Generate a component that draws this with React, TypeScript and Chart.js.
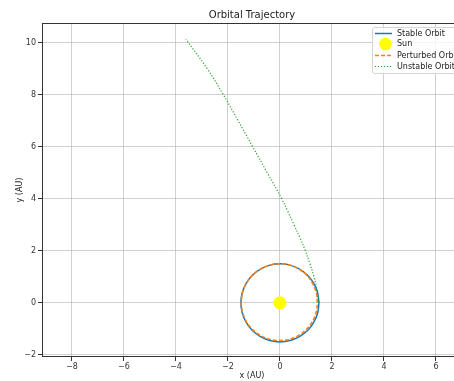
import React, { useEffect, useRef } from "react";
import { Chart, registerables } from "chart.js";

Chart.register(...registerables);

const stableX = [1.5, 1.449, 1.299, 1.061, 0.75, 0.388, 0, -0.388, -0.75, -1.061, -1.299, -1.449, -1.5, -1.449, -1.299, -1.061, -0.75, -0.388, 0, 0.388, 0.75, 1.061, 1.299, 1.449, 1.5];
const stableY = [0, 0.388, 0.75, 1.061, 1.299, 1.449, 1.5, 1.449, 1.299, 1.061, 0.75, 0.388, 0, -0.388, -0.75, -1.061, -1.299, -1.449, -1.5, -1.449, -1.299, -1.061, -0.75, -0.388, 0];

const perturbedX = [1.44, 1.401, 1.264, 1.047, 0.745, 0.388, 0, -0.388, -0.75, -1.061, -1.295, -1.439, -1.49, -1.434, -1.282, -1.039, -0.73, -0.377, 0, 0.374, 0.72, 1.018, 1.247, 1.391, 1.44];
const perturbedY = [0, 0.375, 0.73, 1.047, 1.29, 1.449, 1.5, 1.449, 1.299, 1.061, 0.748, 0.386, 0, -0.384, -0.74, -1.039, -1.264, -1.405, -1.45, -1.396, -1.247, -1.018, -0.72, -0.373, 0];

const unstableX = [1.5, 1.42, 1.31, 1.15, 0.98, 0.77, 0.54, 0.31, 0.07, -0.49, -1.05, -1.61, -2.18, -2.8, -3.62];
const unstableY = [0, 0.5, 1.0, 1.5, 2.0, 2.5, 3.0, 3.5, 4.0, 5.0, 6.0, 7.0, 8.0, 9.0, 10.13];

const sunX = [0];
const sunY = [0];

const xTicks = [-8, -6, -4, -2, 0, 2, 4, 6];
const yTicks = [-2, 0, 2, 4, 6, 8, 10];

const legendLabels = ["Stable Orbit", "Sun", "Perturbed Orbit", "Unstable Orbit"];

const FONT = "'DejaVu Sans', sans-serif";

const pts = (xs: number[], ys: number[]) => xs.map((x, i) => ({ x, y: ys[i] }));
const fmt = (v: number) => (v < 0 ? "\u2212" + Math.abs(v) : String(v));

export default function App() {
  const ref = useRef<HTMLCanvasElement | null>(null);

  useEffect(() => {
    if (!ref.current) return;

    const decor = {
      id: "decor",
      afterDraw(chart: any) {
        const ctx = chart.ctx as CanvasRenderingContext2D;
        const a = chart.chartArea;
        ctx.save();
        // frame
        ctx.strokeStyle = "#333";
        ctx.lineWidth = 1;
        ctx.strokeRect(Math.round(a.left) + 0.5, Math.round(a.top) + 0.5, Math.round(a.right - a.left) - 1, Math.round(a.bottom - a.top) - 1);
        // title
        ctx.fillStyle = "#222";
        ctx.font = `10px ${FONT}`;
        ctx.textAlign = "center";
        ctx.textBaseline = "middle";
        const cx = (a.left + a.right) / 2;
        ctx.fillText("Orbital Trajectory", cx, 15);
        ctx.font = `8px ${FONT}`;
        ctx.fillText("x (AU)", cx, 376);
        ctx.save();
        ctx.translate(20, (a.top + a.bottom) / 2);
        ctx.rotate(-Math.PI / 2);
        ctx.fillText("y (AU)", 0, 0);
        ctx.restore();

        // legend
        const bx = 372.5, by = 27.5, bw = 86, bh = 46;
        const r = 2.5;
        ctx.beginPath();
        ctx.moveTo(bx + r, by);
        ctx.lineTo(bx + bw - r, by);
        ctx.quadraticCurveTo(bx + bw, by, bx + bw, by + r);
        ctx.lineTo(bx + bw, by + bh - r);
        ctx.quadraticCurveTo(bx + bw, by + bh, bx + bw - r, by + bh);
        ctx.lineTo(bx + r, by + bh);
        ctx.quadraticCurveTo(bx, by + bh, bx, by + bh - r);
        ctx.lineTo(bx, by + r);
        ctx.quadraticCurveTo(bx, by, bx + r, by);
        ctx.closePath();
        ctx.fillStyle = "rgba(255,255,255,0.8)";
        ctx.fill();
        ctx.strokeStyle = "#d6d6d6";
        ctx.lineWidth = 1;
        ctx.stroke();

        const rowsY = [33.5, 44, 55.5, 66.5];
        const hx0 = 375, hx1 = 392;
        ctx.setLineDash([]);
        ctx.strokeStyle = "#1f77b4";
        ctx.lineWidth = 1.5;
        ctx.beginPath();
        ctx.moveTo(hx0, rowsY[0]);
        ctx.lineTo(hx1, rowsY[0]);
        ctx.stroke();
        ctx.fillStyle = "#ffff00";
        ctx.beginPath();
        ctx.arc((hx0 + hx1) / 2 + 2, rowsY[1], 6.3, 0, Math.PI * 2);
        ctx.fill();
        ctx.strokeStyle = "#ff7f0e";
        ctx.setLineDash([4, 2]);
        ctx.beginPath();
        ctx.moveTo(hx0, rowsY[2]);
        ctx.lineTo(hx1, rowsY[2]);
        ctx.stroke();
        ctx.strokeStyle = "#2ca02c";
        ctx.lineWidth = 1.2;
        ctx.setLineDash([1.2, 1.8]);
        ctx.beginPath();
        ctx.moveTo(hx0, rowsY[3]);
        ctx.lineTo(hx1, rowsY[3]);
        ctx.stroke();
        ctx.setLineDash([]);

        ctx.fillStyle = "#222";
        ctx.font = `8px ${FONT}`;
        ctx.textAlign = "left";
        ctx.textBaseline = "middle";
        legendLabels.forEach((t, i) => ctx.fillText(t, 397, rowsY[i]));
        ctx.restore();
      },
    };

    const chart = new Chart(ref.current, {
      type: "scatter",
      data: {
        datasets: [
          {
            label: legendLabels[0],
            data: pts(stableX, stableY),
            showLine: true,
            borderColor: "#1f77b4",
            borderWidth: 1.5,
            pointRadius: 0,
            tension: 0.35,
            order: 4,
          },
          {
            label: legendLabels[1],
            data: pts(sunX, sunY),
            showLine: false,
            pointRadius: 6.5,
            pointBackgroundColor: "#ffff00",
            pointBorderWidth: 0,
            borderColor: "#ffff00",
            order: 3,
          },
          {
            label: legendLabels[2],
            data: pts(perturbedX, perturbedY),
            showLine: true,
            borderColor: "#ff7f0e",
            borderWidth: 1.5,
            borderDash: [4, 2],
            pointRadius: 0,
            tension: 0.35,
            order: 2,
          },
          {
            label: legendLabels[3],
            data: pts(unstableX, unstableY),
            showLine: true,
            borderColor: "#2ca02c",
            borderWidth: 1.2,
            borderDash: [1.2, 1.8],
            pointRadius: 0,
            tension: 0.4,
            order: 1,
          },
        ],
      },
      options: {
        animation: false,
        responsive: false,
        devicePixelRatio: 1,
        layout: { padding: { top: 23, right: 8, left: 0, bottom: 0 } },
        plugins: { legend: { display: false }, tooltip: { enabled: false }, title: { display: false } },
        scales: {
          x: {
            type: "linear",
            min: -9.15,
            max: 7.0,
            afterBuildTicks: (s: any) => {
              s.ticks = xTicks.map((v) => ({ value: v }));
            },
            afterFit: (s: any) => {
              s.height = 24;
            },
            ticks: {
              callback: (v: any) => fmt(Number(v)),
              font: { family: FONT, size: 8 },
              color: "#333",
              padding: 1,
              maxRotation: 0,
              autoSkip: false,
            },
            grid: { color: "rgba(176,176,176,0.6)", lineWidth: 1, tickLength: 4, tickColor: "#333" },
            border: { display: false },
          },
          y: {
            type: "linear",
            min: -2.08,
            max: 10.75,
            afterBuildTicks: (s: any) => {
              s.ticks = yTicks.map((v) => ({ value: v }));
            },
            afterFit: (s: any) => {
              s.width = 42;
            },
            ticks: {
              callback: (v: any) => fmt(Number(v)),
              font: { family: FONT, size: 8 },
              color: "#333",
              padding: 2,
              autoSkip: false,
            },
            grid: { color: "rgba(176,176,176,0.6)", lineWidth: 1, tickLength: 4, tickColor: "#333" },
            border: { display: false },
          },
        },
      },
      plugins: [decor],
    });

    return () => chart.destroy();
  }, []);

  return (
    <div style={{ position: "fixed", left: 0, top: 0, width: 470, height: 381, background: "#fff" }}>
      <canvas ref={ref} width={470} height={381} style={{ display: "block", width: 470, height: 381 }} />
    </div>
  );
}
